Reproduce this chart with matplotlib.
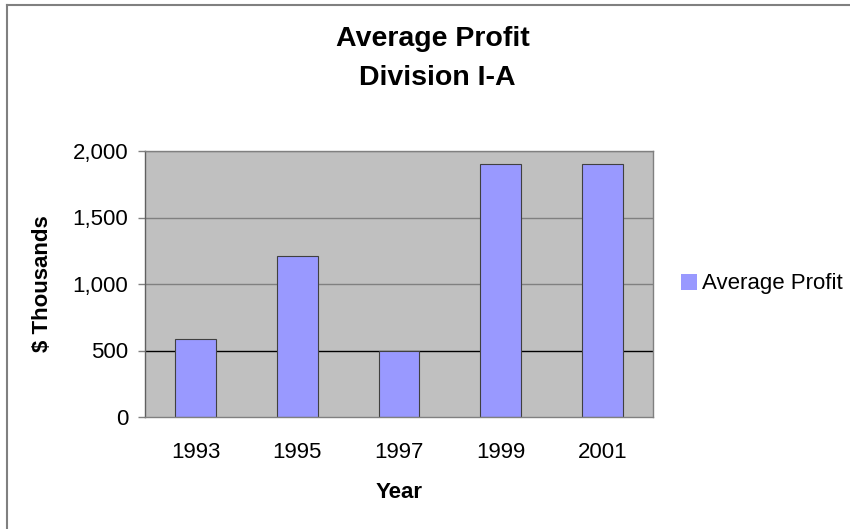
import matplotlib

matplotlib.use("Agg")
import matplotlib.pyplot as plt
from matplotlib.lines import Line2D
from matplotlib.ticker import FuncFormatter

plt.rcParams["font.family"] = ["Liberation Sans", "DejaVu Sans"]

years = ["1993", "1995", "1997", "1999", "2001"]
profit = [590, 1210, 500, 1900, 1900]
y_ticks = [0, 500, 1000, 1500, 2000]

fig = plt.figure(figsize=(8.5, 5.29), dpi=100)
fig.patch.set_facecolor("white")
ax = fig.add_axes([145 / 850, 1 - 417 / 529, 508 / 850, 266 / 529])
ax.set_facecolor("#C0C0C0")

# gridlines (the 500 line is black in the original)
for t in y_ticks[1:]:
    ax.axhline(t, color="black" if t == 500 else "#808080", linewidth=1.0, zorder=1)

x = range(len(years))
ax.bar(x, profit, width=0.4, color="#9999FF", edgecolor="#404040",
       linewidth=0.8, zorder=2, label="Average Profit")

ax.set_xlim(-0.5, len(years) - 0.5)
ax.set_ylim(0, 2000)
ax.set_xticks(list(x))
ax.set_xticklabels(years)
ax.set_yticks(y_ticks)
ax.yaxis.set_major_formatter(FuncFormatter(lambda v, _: f"{v:,.0f}"))
ax.tick_params(axis="x", length=0, pad=18, labelsize=16)
ax.tick_params(axis="y", length=5, width=1, color="#808080", pad=7, labelsize=16)

for side in ("top", "right", "bottom"):
    ax.spines[side].set_color("#808080")
ax.spines["left"].set_color("#606060")
for s in ax.spines.values():
    s.set_linewidth(1.0)

ax.set_xlabel("Year", fontsize=16, fontweight="bold", labelpad=14)
ax.set_ylabel("$ Thousands", fontsize=16, fontweight="bold")
ax.yaxis.set_label_coords((43 - 145) / 508, 0.5)
ax.yaxis.label.set_verticalalignment("center")

fig.text(433 / 850, 1 - 39 / 529, "Average Profit", ha="center", va="center",
         fontsize=20.5, fontweight="bold")
fig.text(437 / 850, 1 - 78 / 529, "Division I-A", ha="center", va="center",
         fontsize=20.5, fontweight="bold")

leg = fig.legend(loc="center left", bbox_to_anchor=(681 / 850, 1 - 284 / 529),
                 frameon=False, fontsize=16, handlelength=0.7, handleheight=0.7,
                 handletextpad=0.25, borderaxespad=0, borderpad=0)
for h in leg.legend_handles:
    h.set_edgecolor("none")

# chart area border (top and left visible)
fig.add_artist(Line2D([7 / 850, 7 / 850], [0, 1 - 5 / 529], color="#808080", linewidth=1.5))
fig.add_artist(Line2D([7 / 850, 1], [1 - 5 / 529, 1 - 5 / 529], color="#808080", linewidth=1.5))

fig.savefig("out.png", dpi=100)
